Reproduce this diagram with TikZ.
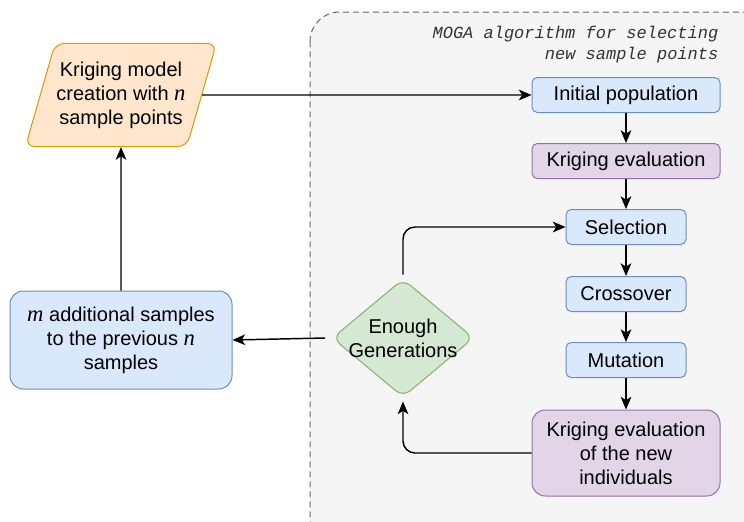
\documentclass[tikz,border=0pt]{standalone}
\usepackage{fontspec}
\setmainfont{Liberation Sans}
\newfontfamily\monofont{Liberation Mono}
\newfontfamily\serifit{Liberation Serif Italic}
\newcommand{\var}[1]{{\serifit\fontsize{17}{17}\selectfont #1}}
\usetikzlibrary{arrows.meta,shapes.geometric}
\definecolor{blueFill}{HTML}{DAE8FC}
\definecolor{blueLine}{HTML}{6C8EBF}
\definecolor{purpleFill}{HTML}{E1D5E7}
\definecolor{purpleLine}{HTML}{9673A6}
\definecolor{orangeFill}{HTML}{FFE6CC}
\definecolor{orangeLine}{HTML}{D79B00}
\definecolor{greenFill}{HTML}{D5E8D4}
\definecolor{greenLine}{HTML}{82B366}
\definecolor{groupFill}{HTML}{F5F5F5}
\definecolor{groupLine}{HTML}{666666}

\begin{document}
\begin{tikzpicture}[x=0.75pt,y=-0.75pt,
      >={Stealth[length=9.5pt,width=8pt,inset=2.5pt]},
      font=\fontsize{15}{18}\selectfont,
      flow/.style={->,line width=1.1pt,rounded corners=9pt},
      box/.style={draw,rectangle,rounded corners=4pt,line width=0.75pt,
        align=center,inner sep=2pt},
      bluebox/.style={box,fill=blueFill,draw=blueLine},
      purplebox/.style={box,fill=purpleFill,draw=purpleLine},
      wide/.style={minimum width=141pt,minimum height=26.25pt},
      narrow/.style={minimum width=90pt,minimum height=26.25pt}]
      \useasboundingbox (0,0) rectangle (744,522);

      % group of the MOGA steps
      \draw[groupLine,fill=groupFill,dash pattern=on 4.5pt off 3pt,
        line width=0.75pt,rounded corners=22pt] (310,12) rectangle (780,560);
      \node[anchor=east,align=right,text=black!80,
        font=\monofont\itshape\fontsize{12.75}{15.75}\selectfont]
        (title) at (723,45) {MOGA algorithm for selecting\\new sample points};

      \node[draw=orangeLine,fill=orangeFill,line width=0.75pt,
        trapezium,trapezium left angle=74,trapezium right angle=106,
        rounded corners=7pt,inner xsep=1pt,inner ysep=13.7pt,
        align=center]
        (kriging) at (121,95) {Kriging model\\creation with \var{n}\\sample points};
      \node[bluebox,minimum width=166.5pt,minimum height=73.5pt,
        rounded corners=10pt] (extra) at (121,340)
        {\var{m} additional samples\\to the previous \var{n}\\samples};

      \node[bluebox,wide]   (init) at (626,95)  {Initial population};
      \node[purplebox,wide] (eval) at (626,161) {Kriging evaluation};
      \node[bluebox,narrow] (sel)  at (626,227) {Selection};
      \node[bluebox,narrow] (cross) at (626,294) {Crossover};
      \node[bluebox,narrow] (mut)  at (626,360) {Mutation};
      \node[purplebox,minimum width=141pt,minimum height=64.5pt,
        rounded corners=10pt] (evalnew) at (626,453)
        {Kriging evaluation\\of the new\\individuals};
      \node[draw=greenLine,fill=greenFill,line width=0.75pt,diamond,
        aspect=1.2,rounded corners=7pt,minimum width=106pt,
        minimum height=88.5pt,align=center,inner sep=-6pt]
        (enough) at (403,338) {Enough\\Generations};

      \draw[flow] (kriging.east) -- (init.west);
      \draw[flow] (init) -- (eval);
      \draw[flow] (eval) -- (sel);
      \draw[flow] (sel) -- (cross);
      \draw[flow] (cross) -- (mut);
      \draw[flow] (mut) -- (evalnew);
      \draw[flow] (evalnew.west) -| ([yshift=-3pt]enough.south);
      \draw[flow] ([yshift=3pt]enough.north) |- (sel.west);
      \draw[flow] ([xshift=-5pt]enough.west) -- (extra.east);
      \draw[flow] (extra.north) -- (kriging.south);
\end{tikzpicture}
\end{document}
